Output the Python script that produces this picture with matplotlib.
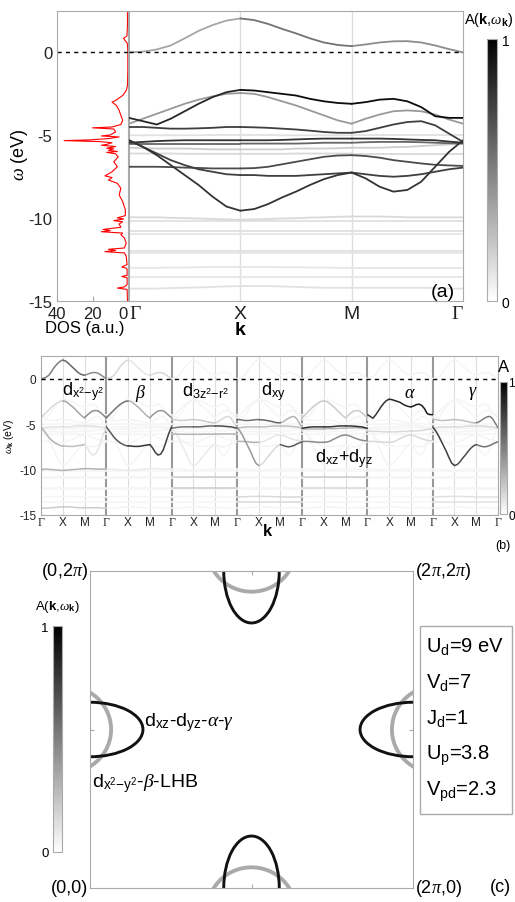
import numpy as np
import matplotlib
matplotlib.use('Agg')
import matplotlib.pyplot as plt
from matplotlib.patches import Ellipse, Circle, Rectangle
from matplotlib.colors import Normalize
from matplotlib.cm import ScalarMappable

plt.rcParams['font.family'] = ['Liberation Sans', 'DejaVu Sans']
plt.rcParams['mathtext.fontset'] = 'custom'
plt.rcParams['mathtext.rm'] = 'Liberation Sans'
plt.rcParams['mathtext.it'] = 'Liberation Serif:italic'
plt.rcParams['mathtext.bf'] = 'Liberation Sans:bold'
plt.rcParams['axes.unicode_minus'] = False

# k-path grid: Gamma - X - M - Gamma, 25 points per path (8 per segment)
kpts = np.linspace(0, 3, 25)
klabels = ['Γ', 'X', 'M', 'Γ']

# bands (eV) read at the 25 k points
bands = [
    [0.0, 0.05, 0.18, 0.42, 0.85, 1.3, 1.65, 1.92, 2.05, 1.95, 1.72, 1.42, 1.15,
     0.85, 0.6, 0.45, 0.38, 0.48, 0.6, 0.67, 0.68, 0.6, 0.42, 0.2, 0.0],
    [-3.95, -4.15, -4.35, -4.0, -3.55, -3.1, -2.7, -2.4, -2.26, -2.3, -2.4, -2.5, -2.6,
     -2.8, -2.95, -3.05, -3.1, -3.0, -2.85, -2.8, -2.95, -3.3, -3.85, -3.95, -3.95],
    [-4.3, -4.0, -3.7, -3.4, -3.1, -2.85, -2.65, -2.5, -2.45, -2.5, -2.7, -2.95, -3.2,
     -3.5, -3.8, -4.1, -4.3, -4.0, -3.75, -3.55, -3.5, -3.55, -3.75, -4.05, -4.3],
    [-4.5, -4.5, -4.55, -4.6, -4.6, -4.58, -4.55, -4.5, -4.5, -4.52, -4.55, -4.6, -4.65,
     -4.72, -4.8, -4.85, -4.85, -4.75, -4.55, -4.35, -4.2, -4.15, -4.4, -4.9, -5.4],
    [-5.0, -5.0, -5.0, -5.0, -5.0, -5.0, -4.98, -4.98, -4.98, -4.98, -4.98, -5.0, -5.0,
     -5.0, -5.0, -5.0, -5.0, -5.0, -5.0, -5.0, -5.0, -5.0, -5.0, -5.0, -5.0],
    [-5.45, -5.4, -5.35, -5.32, -5.3, -5.3, -5.3, -5.3, -5.3, -5.3, -5.3, -5.28, -5.25,
     -5.22, -5.2, -5.2, -5.2, -5.2, -5.2, -5.22, -5.25, -5.28, -5.3, -5.38, -5.45],
    [-5.5, -5.5, -5.5, -5.5, -5.5, -5.5, -5.5, -5.5, -5.5, -5.5, -5.5, -5.5, -5.5,
     -5.48, -5.45, -5.45, -5.45, -5.42, -5.4, -5.4, -5.4, -5.42, -5.45, -5.48, -5.5],
    [-5.75, -5.78, -5.8, -5.8, -5.8, -5.82, -5.85, -5.85, -5.85, -5.85, -5.85, -5.85, -5.8,
     -5.8, -5.8, -5.78, -5.75, -5.75, -5.75, -5.72, -5.7, -5.65, -5.6, -5.55, -5.5],
    [-6.1, -6.1, -6.1, -6.1, -6.12, -6.12, -6.12, -6.12, -6.12, -6.12, -6.12, -6.12, -6.1,
     -6.1, -6.1, -6.1, -6.1, -6.1, -6.1, -6.1, -6.1, -6.1, -6.1, -6.1, -6.1],
    [-5.3, -5.7, -6.1, -6.5, -6.8, -7.05, -7.2, -7.35, -7.4, -7.4, -7.45, -7.45, -7.45,
     -7.4, -7.35, -7.3, -7.25, -7.6, -8.1, -8.4, -8.3, -7.8, -6.9, -6.0, -5.3],
    [-6.9, -6.9, -6.9, -6.92, -6.95, -6.97, -7.0, -7.0, -7.0, -6.98, -6.9, -6.75, -6.6,
     -6.45, -6.3, -6.22, -6.2, -6.25, -6.35, -6.5, -6.6, -6.7, -6.78, -6.82, -6.85],
    [-5.3, -5.7, -6.2, -6.8, -7.4, -8.0, -8.7, -9.3, -9.55, -9.45, -9.15, -8.75, -8.4,
     -8.0, -7.65, -7.4, -7.25, -7.35, -7.45, -7.5, -7.45, -7.35, -7.2, -7.05, -6.95],
    [-9.95, -9.95, -9.95, -9.98, -10.0, -10.02, -10.05, -10.08, -10.1, -10.08, -10.05, -10.02, -10.0,
     -9.97, -9.95, -9.92, -9.9, -9.9, -9.9, -9.92, -9.95, -9.95, -9.95, -9.95, -9.95],
    [-10.15, -10.15, -10.15, -10.15, -10.15, -10.15, -10.15, -10.15, -10.15, -10.15, -10.15, -10.15, -10.15,
     -10.15, -10.15, -10.15, -10.15, -10.15, -10.15, -10.15, -10.15, -10.15, -10.15, -10.15, -10.15],
    [-10.8, -10.8, -10.8, -10.8, -10.8, -10.8, -10.8, -10.8, -10.8, -10.8, -10.8, -10.8, -10.8,
     -10.8, -10.8, -10.8, -10.8, -10.8, -10.8, -10.8, -10.8, -10.8, -10.8, -10.8, -10.8],
    [-10.95, -10.95, -10.95, -10.95, -10.95, -10.95, -10.95, -10.95, -10.95, -10.95, -10.95, -10.95, -10.95,
     -10.95, -10.95, -10.95, -10.95, -10.95, -10.95, -10.95, -10.95, -10.95, -10.95, -10.95, -10.95],
    [-12.0, -12.0, -12.0, -12.0, -12.0, -12.0, -12.0, -12.0, -12.0, -12.0, -12.0, -12.0, -12.0,
     -12.0, -12.0, -12.0, -12.0, -12.0, -12.0, -12.0, -12.0, -12.0, -12.0, -12.0, -12.0],
    [-12.1, -12.1, -12.1, -12.1, -12.1, -12.1, -12.1, -12.1, -12.1, -12.1, -12.1, -12.1, -12.1,
     -12.1, -12.1, -12.1, -12.1, -12.1, -12.1, -12.1, -12.1, -12.1, -12.1, -12.1, -12.1],
    [-13.0, -13.0, -13.0, -12.98, -12.98, -12.96, -12.95, -12.95, -12.95, -12.95, -12.95, -12.96, -12.96,
     -12.98, -12.98, -13.0, -13.0, -13.0, -13.0, -13.0, -13.0, -13.0, -13.0, -13.0, -13.0],
    [-13.55, -13.55, -13.55, -13.55, -13.55, -13.55, -13.55, -13.55, -13.55, -13.55, -13.55, -13.55, -13.55,
     -13.55, -13.55, -13.55, -13.55, -13.55, -13.55, -13.55, -13.55, -13.55, -13.55, -13.55, -13.55],
    [-14.25, -14.25, -14.25, -14.22, -14.2, -14.18, -14.15, -14.12, -14.1, -14.1, -14.1, -14.12, -14.15,
     -14.18, -14.2, -14.2, -14.2, -14.2, -14.2, -14.2, -14.2, -14.2, -14.22, -14.25, -14.25],
]

# spectral weight per band for the three path segments (panel a)
weights_a = [
    [0.35, 0.55, 0.45], [0.85, 0.95, 0.95], [0.4, 0.4, 0.4], [0.75, 0.75, 0.75],
    [0.12, 0.12, 0.12], [0.8, 0.8, 0.8], [0.6, 0.6, 0.6], [0.2, 0.2, 0.2],
    [0.15, 0.15, 0.15], [0.75, 0.75, 0.8], [0.7, 0.7, 0.7], [0.8, 0.8, 0.75],
    [0.15, 0.15, 0.15], [0.12, 0.12, 0.12], [0.12, 0.12, 0.12], [0.1, 0.1, 0.1],
    [0.12, 0.12, 0.12], [0.1, 0.1, 0.1], [0.1, 0.1, 0.1], [0.1, 0.1, 0.1],
    [0.12, 0.12, 0.12],
]

# DOS (red curve)
dos_energy = [2.4, 1.6, 1.0, 0.85, 0.7, 0.55, 0.3, 0.0, -1.0, -2.0,
              -2.3, -2.6, -2.9, -3.0, -3.2, -3.5, -3.8, -4.1, -4.35, -4.5,
              -4.55, -4.62, -4.8, -4.98, -5.04, -5.1, -5.2, -5.28, -5.32, -5.38,
              -5.45, -5.55, -5.6, -5.68, -5.78, -5.82, -5.9, -5.98, -6.03, -6.12,
              -6.3, -6.6, -6.9, -7.2, -7.45, -7.55, -7.7, -7.9, -8.2, -8.6,
              -9.0, -9.5, -9.85, -9.98, -10.05, -10.15, -10.22, -10.35, -10.55, -10.68,
              -10.75, -10.82, -10.9, -11.0, -11.2, -11.5, -11.8, -11.88, -11.95, -12.02,
              -12.1, -12.3, -12.8, -12.95, -13.02, -13.1, -13.45, -13.52, -13.6, -14.0,
              -14.15, -14.22, -14.3, -15.0]
dos_value = [0.3, 0.3, 0.6, 2.5, 1.5, 0.4, 0.2, 0.1, 0.1, 0.3,
             1.0, 3.0, 7.0, 9.0, 6.5, 5.0, 4.0, 3.0, 4.0, 9.0,
             20.0, 8.0, 7.0, 10.0, 15.0, 5.0, 11.0, 22.0, 36.0, 16.0,
             9.0, 12.0, 15.0, 7.0, 12.0, 8.0, 11.0, 6.0, 12.0, 7.0,
             5.5, 8.0, 6.0, 9.0, 13.0, 9.0, 11.0, 6.0, 4.0, 5.0,
             3.0, 1.5, 1.5, 6.0, 2.5, 8.0, 3.0, 5.0, 4.0, 14.0,
             10.0, 15.0, 3.0, 4.0, 2.0, 1.0, 2.0, 11.0, 7.0, 13.0,
             2.0, 1.0, 0.5, 3.5, 1.0, 0.5, 0.5, 3.5, 0.5, 0.5,
             2.0, 6.0, 0.5, 0.3]

# panel b: orbital-resolved weights (subpanel, band, [G-X, X-M, M-G])
orbitals = [r'd$_{\mathrm{x}^{2}\mathrm{-y}^{2}}$', r'$\beta$', r'd$_{\mathrm{3z}^{2}\mathrm{-r}^{2}}$',
            r'd$_{\mathrm{xy}}$', r'd$_{\mathrm{xz}}$+d$_{\mathrm{yz}}$', r'$\alpha$', r'$\gamma$']
orb_k = [0.95, 4.3, 6.5, 10.1, 12.6, 16.7, 19.6]
orb_w = [-1.3, -1.5, -1.3, -1.3, -8.7, -1.5, -1.5]
base_weight = 0.04
highlights = [
    (0, 0, [0.5, 0.6, 0.45]), (0, 2, [0.15, 0.35, 0.45]), (0, 9, [0.3, 0.25, 0.1]),
    (0, 5, [0.12, 0.12, 0.12]), (0, 12, [0.3, 0.3, 0.3]), (0, 20, [0.2, 0.2, 0.2]),
    (1, 0, [0.15, 0.1, 0.15]), (1, 2, [0.55, 0.3, 0.4]), (1, 9, [0.65, 0.8, 0.75]),
    (1, 12, [0.08, 0.08, 0.08]),
    (2, 5, [0.55, 0.6, 0.7]), (2, 3, [0.2, 0.2, 0.15]), (2, 8, [0.3, 0.3, 0.3]),
    (2, 14, [0.2, 0.2, 0.2]), (2, 16, [0.2, 0.2, 0.2]), (2, 11, [0.08, 0.08, 0.05]),
    (3, 3, [0.55, 0.6, 0.3]), (3, 11, [0.4, 0.15, 0.65]), (3, 10, [0.3, 0.1, 0.1]),
    (3, 5, [0.25, 0.25, 0.25]), (3, 18, [0.15, 0.15, 0.15]), (3, 19, [0.15, 0.15, 0.15]),
    (4, 5, [0.8, 0.8, 0.8]), (4, 10, [0.45, 0.45, 0.45]), (4, 2, [0.2, 0.2, 0.2]),
    (4, 6, [0.3, 0.3, 0.3]), (4, 14, [0.2, 0.2, 0.2]), (4, 16, [0.15, 0.15, 0.15]),
    (5, 1, [0.8, 0.85, 0.9]), (5, 10, [0.15, 0.15, 0.15]), (5, 7, [0.15, 0.15, 0.15]),
    (6, 11, [0.75, 0.7, 0.55]), (6, 3, [0.25, 0.25, 0.5]), (6, 5, [0.15, 0.15, 0.15]),
    (6, 18, [0.12, 0.12, 0.12]), (6, 19, [0.12, 0.12, 0.12]),
]

# panel c: Fermi surface pockets (centres, semi-axes in rad)
black_centres = [(np.pi, 0), (np.pi, 2 * np.pi), (0, np.pi), (2 * np.pi, np.pi)]
black_semi = [(0.54, 1.03), (0.54, 1.03), (1.03, 0.54), (1.03, 0.54)]
gray_centres = [(np.pi, -0.45), (np.pi, 2 * np.pi + 0.45), (-0.45, np.pi), (2 * np.pi + 0.45, np.pi)]
gray_radius = 0.86
params = [r'U$_{\mathrm{d}}$=9 eV', r'V$_{\mathrm{d}}$=7', r'J$_{\mathrm{d}}$=1',
          r'U$_{\mathrm{p}}$=3.8', r'V$_{\mathrm{pd}}$=2.3']

W, H = 515, 903
cmap = plt.get_cmap('gray_r')
spine_c = '#aaaaaa'
grid_c = '#dddddd'


def fx(x):
    return x / W


def fy(y):
    return 1 - y / H


def draw_bands(ax, x0, w, lw):
    segs = []
    for b in range(len(bands)):
        for s in range(3):
            segs.append((w[b][s], b, s))
    for wt, b, s in sorted(segs):
        sl = slice(8 * s, 8 * s + 9)
        ax.plot(kpts[sl] + x0, np.array(bands[b])[sl], color=cmap(wt), lw=lw,
                solid_capstyle='round', solid_joinstyle='round', zorder=2 + wt)


def style(ax):
    for sp in ax.spines.values():
        sp.set_color(spine_c)
    ax.tick_params(direction='in', color=spine_c, labelcolor='#222222')


def serif_gamma(labels):
    for t in labels:
        if t.get_text() == 'Γ':
            t.set_fontfamily('Liberation Serif')


fig = plt.figure(figsize=(W / 100, H / 100), dpi=100)

# ---------------- panel (a) ----------------
ax_dos = fig.add_axes([fx(57), fy(302), 71 / W, 290 / H])
ax_a = fig.add_axes([fx(129), fy(302), 334 / W, 290 / H])
cax_a = fig.add_axes([fx(487), fy(302), 10 / W, 262 / H])

ax_dos.plot(dos_value, dos_energy, color='red', lw=0.8)
ax_dos.axhline(0, color='black', ls='--', lw=1, dashes=(3, 3))
ax_dos.set_xlim(40, 0)
ax_dos.set_ylim(-15, 2.5)
ax_dos.set_xticks([40, 20, 0])
ax_dos.set_yticks([0, -5, -10, -15])
ax_dos.tick_params(labelsize=12)
style(ax_dos)
ax_dos.tick_params(axis='y', length=0)
ax_dos.get_xticklabels()[-1].set_horizontalalignment('right')

draw_bands(ax_a, 0, weights_a, 1.3)
ax_a.axhline(0, color='black', ls='--', lw=1, dashes=(3, 3), zorder=5)
for xv in [1, 2]:
    ax_a.axvline(xv, color=grid_c, lw=1, zorder=1)
ax_a.set_xlim(0, 3)
ax_a.set_ylim(-15, 2.5)
ax_a.set_xticks([0, 1, 2, 3])
ax_a.set_xticklabels(klabels, fontsize=14)
serif_gamma(ax_a.get_xticklabels())
ax_a.get_xticklabels()[0].set_horizontalalignment('left')
ax_a.get_xticklabels()[-1].set_horizontalalignment('right')
ax_a.set_yticks([])
style(ax_a)
ax_a.tick_params(axis='x', length=0, pad=3)
ax_a.text(2.93, -14.4, '(a)', fontsize=14, ha='right', va='center')

norm = Normalize(0, 1)
cb = fig.colorbar(ScalarMappable(norm=norm, cmap=cmap), cax=cax_a, ticks=[0, 1])
cb.outline.set_edgecolor(spine_c)
cax_a.tick_params(labelsize=10, length=0)

fig.text(fx(20), fy(155), r'$\omega$ (eV)', rotation=90, ha='center', va='center', fontsize=13)
fig.text(fx(85), fy(329), 'DOS (a.u.)', ha='center', va='center', fontsize=12)
fig.text(fx(240), fy(331), r'$\mathbf{k}$', ha='center', va='center', fontsize=14)
fig.text(fx(489), fy(20), r'A($\mathbf{k}$,$\omega_{\mathbf{k}}$)', ha='center', va='center', fontsize=10.5)

# ---------------- panel (b) ----------------
ax_b = fig.add_axes([fx(41), fy(516), 457 / W, 159 / H])
cax_b = fig.add_axes([fx(500), fy(515), 7 / W, 132 / H])

wb = np.full((7, len(bands), 3), base_weight)
for p, b, w in highlights:
    wb[p, b] = w
for p in range(7):
    draw_bands(ax_b, 3 * p, wb[p], 1.1)
    ax_b.text(orb_k[p], orb_w[p], orbitals[p], fontsize=13, ha='left', va='center', zorder=10)
for xv in range(1, 21):
    if xv % 3 == 0:
        ax_b.axvline(xv, color='#999999', lw=1.5, zorder=1)
    else:
        ax_b.axvline(xv, color=grid_c, lw=0.8, zorder=1)
ax_b.axhline(0, color='black', ls='--', lw=1, dashes=(3, 3), zorder=6)
ax_b.set_xlim(0, 21)
ax_b.set_ylim(-15, 2.5)
ax_b.set_xticks(range(22))
ax_b.set_xticklabels(['Γ'] + ['X', 'M', 'Γ'] * 7, fontsize=8.5)
serif_gamma(ax_b.get_xticklabels())
ax_b.set_yticks([0, -5, -10, -15])
ax_b.tick_params(labelsize=8.5)
style(ax_b)
ax_b.tick_params(axis='x', length=0, pad=1)
ax_b.tick_params(axis='y', length=2)
ax_b.set_ylabel(r'$\omega_{\mathbf{k}}$ (eV)', fontsize=7.5, labelpad=2)

cb = fig.colorbar(ScalarMappable(norm=norm, cmap=cmap), cax=cax_b, ticks=[0, 1])
cb.outline.set_edgecolor(spine_c)
cax_b.tick_params(labelsize=8.5, length=0, pad=1)
fig.text(fx(268), fy(531), r'$\mathbf{k}$', ha='center', va='center', fontsize=12)
fig.text(fx(503), fy(546), '(b)', ha='center', va='center', fontsize=9)
fig.text(fx(498), fy(368), 'A', ha='left', va='center', fontsize=12)

# ---------------- panel (c) ----------------
ax_c = fig.add_axes([fx(90), fy(889), 323 / W, 317 / H])
cax_c = fig.add_axes([fx(53), fy(853), 9 / W, 226 / H])

for (cx, cy) in gray_centres:
    ax_c.add_patch(Circle((cx, cy), gray_radius, fill=False, ec='#aaaaaa', lw=2.8))
for (cx, cy), (a, b) in zip(black_centres, black_semi):
    ax_c.add_patch(Ellipse((cx, cy), 2 * a, 2 * b, fill=False, ec='#111111', lw=2.1))
ax_c.set_xlim(0, 2 * np.pi)
ax_c.set_ylim(0, 2 * np.pi)
ax_c.set_xticks([np.pi])
ax_c.set_yticks([np.pi])
ax_c.set_xticklabels([])
ax_c.set_yticklabels([])
style(ax_c)
ax_c.tick_params(length=3, top=True, right=True)

ax_c.text(1.05, 3.3, r'd$_{\mathrm{xz}}$-d$_{\mathrm{yz}}$-$\alpha$-$\gamma$', fontsize=14, ha='left', va='center')
ax_c.text(0.03, 2.1, r'd$_{\mathrm{x}^{2}\mathrm{-y}^{2}}$-$\beta$-LHB', fontsize=14, ha='left', va='center')

cb = fig.colorbar(ScalarMappable(norm=norm, cmap=cmap), cax=cax_c, ticks=[0, 1])
cb.outline.set_edgecolor(spine_c)
cax_c.yaxis.set_ticks_position('left')
cax_c.tick_params(labelsize=9.5, length=0, pad=3)
fig.text(fx(57), fy(607), r'A($\mathbf{k}$,$\omega_{\mathbf{k}}$)', ha='center', va='center', fontsize=9.5)

fig.text(fx(88), fy(572), r'(0,2$\pi$)', ha='right', va='center', fontsize=13)
fig.text(fx(415), fy(572), r'(2$\pi$,2$\pi$)', ha='left', va='center', fontsize=13)
fig.text(fx(88), fy(889), '(0,0)', ha='right', va='center', fontsize=13)
fig.text(fx(415), fy(889), r'(2$\pi$,0)', ha='left', va='center', fontsize=13)
fig.text(fx(500), fy(888), '(c)', ha='center', va='center', fontsize=13)

fig.add_artist(Rectangle((fx(420), fy(815)), 92 / W, 188 / H, transform=fig.transFigure,
                         fill=False, ec=spine_c, lw=1))
for i, s in enumerate(params):
    fig.text(fx(426), fy(652 + 36 * i), s, ha='left', va='baseline', fontsize=14.5)

fig.savefig('out.png', dpi=100)
